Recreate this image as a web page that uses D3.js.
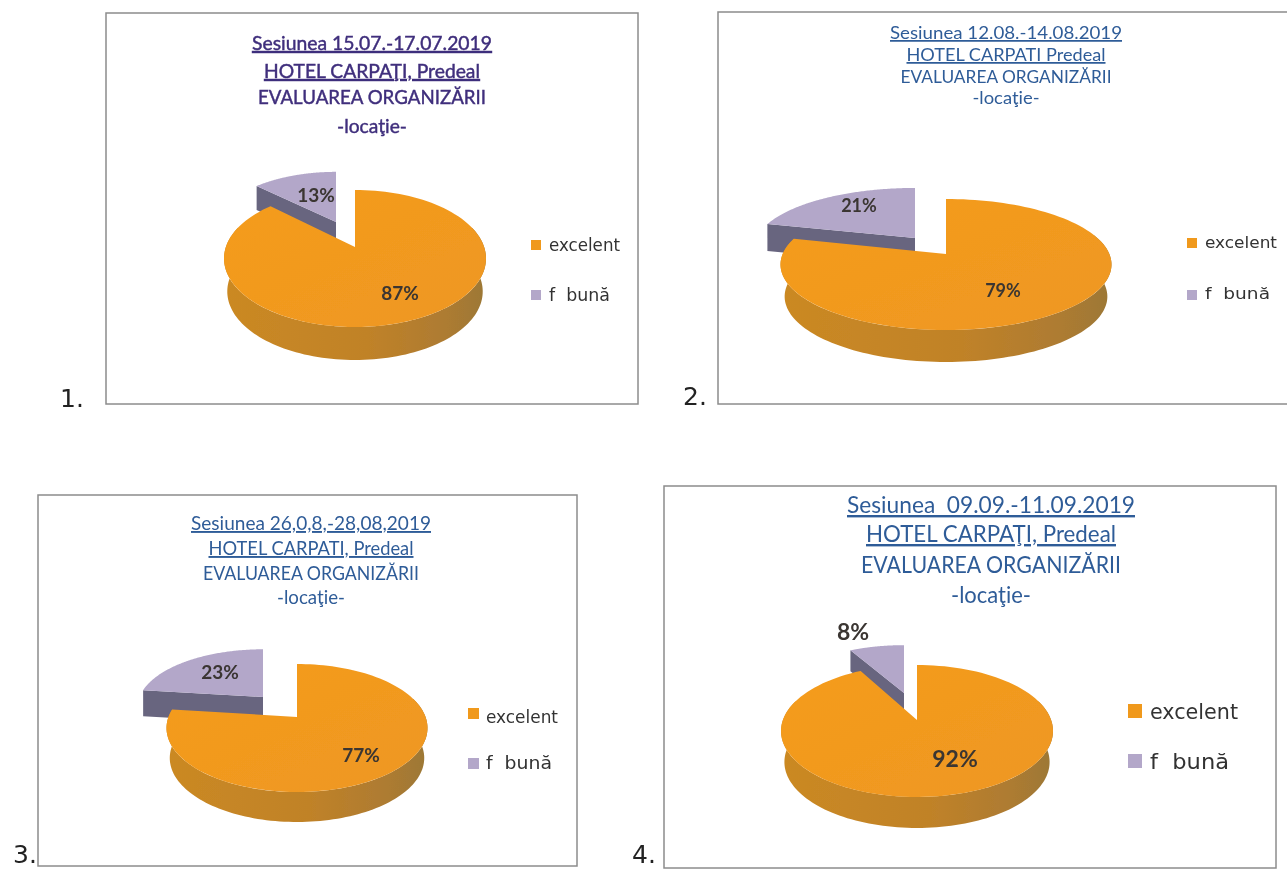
<!DOCTYPE html>
<html><head><meta charset="utf-8">
<script src="https://cdnjs.cloudflare.com/ajax/libs/d3/7.8.5/d3.min.js"></script>
<style>html,body{margin:0;padding:0;background:#fff;overflow:hidden}svg{display:block}text{white-space:pre}</style>
</head><body><svg id="c" width="1287" height="869"></svg>
<script>
// ---- data ----
const categories = ["excelent", "f  bună"];
const excelent = [87, 79, 77, 92];
const fBuna = [13, 21, 23, 8];
const rowLabels = ["1.", "2.", "3.", "4."];
const titles = [
  ["Sesiunea 15.07.-17.07.2019", "HOTEL CARPAŢI, Predeal", "EVALUAREA ORGANIZĂRII", "-locaţie-"],
  ["Sesiunea 12.08.-14.08.2019", "HOTEL CARPATI Predeal", "EVALUAREA ORGANIZĂRII", "-locaţie-"],
  ["Sesiunea 26,0,8,-28,08,2019", "HOTEL CARPATI, Predeal", "EVALUAREA ORGANIZĂRII", "-locaţie-"],
  ["Sesiunea  09.09.-11.09.2019", "HOTEL CARPAŢI, Predeal", "EVALUAREA ORGANIZĂRII", "-locaţie-"]
];
// ---- layout ----
const layout = [
 {frame:[106,13,638,404], num:[60,407], tc:372, tcol:"#3f2e7c", bold:0.45, ts:20, tb:[50,78,104,133], tl:[240,216,228,70],
  ax:355, ay:247, up:57, down:80, hw:131, d:33, px:336, py:222, pk:0.88, pkx:0.94, pd:24,
  sw:10, leg:[[531,240,549,251,71],[531,290,549,301,61]], ls:17,
  lab:[[400,300,19],[316,202,19]]},
 {frame:[718,12,1300,404], num:[683,405], tc:1006, tcol:"#2f5c98", bold:0, ts:17.5, tb:[39,61,83,104], tl:[232,199,211,67],
  ax:946, ay:254, up:55, down:76, hw:165.5, d:32, px:915, py:238, pk:0.91, pkx:0.97, pd:27,
  sw:10, leg:[[1187,238,1205,248,72],[1187,290,1205,299,65]], ls:15,
  lab:[[1003,297,18],[859,212,18]]},
 {frame:[38,495,577,866], num:[13,863], tc:311, tcol:"#2f5c98", bold:0, ts:19, tb:[530,555,580,604], tl:[240,205,216,68],
  ax:297, ay:717, up:53, down:75, hw:130.5, d:30, px:263, py:697, pk:0.9, pkx:0.96, pd:26,
  sw:11, leg:[[468,708,486,723,72],[468,758,486,769,66]], ls:17,
  lab:[[361,762,19],[220,679,19]]},
 {frame:[664,486,1276,868], num:[632,863], tc:991, tcol:"#2f5c98", bold:0, ts:24, tb:[513,542,573,603], tl:[288,250,260,80],
  ax:917, ay:720, up:55, down:77, hw:136, d:31, px:904, py:693, pk:0.87, pkx:0.95, pd:21,
  sw:14, leg:[[1128,704,1150,719,88],[1128,754,1150,769,79]], ls:22,
  lab:[[955,767,23],[853,640,23]]}
];
const svg = d3.select("#c");
const defs = svg.append("defs");
defs.append("filter").attr("id","soft").attr("x",0).attr("y",0)
  .attr("filterUnits","userSpaceOnUse").attr("primitiveUnits","userSpaceOnUse")
  .attr("width",1287).attr("height",869)
  .append("feGaussianBlur").attr("stdDeviation",0.4);
const color = d3.scaleOrdinal().domain(categories).range(["#f0991f", "#b3a7c9"]);
const wallDark = "#68657f";
const sideG = defs.append("linearGradient").attr("id","side");
[[0,"#cb8923"],[0.55,"#c08228"],[0.85,"#ad7b32"],[1,"#9c7836"]].forEach(s=>sideG.append("stop").attr("offset",s[0]).attr("stop-color",s[1]));
const faceG = defs.append("linearGradient").attr("id","face").attr("x1",0).attr("y1",0).attr("x2",1).attr("y2",1);
[[0,"#f59c1c"],[1,"#ee9722"]].forEach(s=>faceG.append("stop").attr("offset",s[0]).attr("stop-color",s[1]));

const pie = d3.pie().sort(null).value(d=>d.v);
const line = d3.line().curve(d3.curveLinear);
const root = svg.append("g").attr("filter","url(#soft)");

excelent.forEach((v,i)=>{
  const L = layout[i];
  const g = root.append("g");
  const [x0,y0,x1,y1] = L.frame;
  g.append("rect").attr("x",x0).attr("y",y0).attr("width",x1-x0).attr("height",y1-y0)
    .attr("fill","#fff").attr("stroke","#8c8c8c").attr("stroke-width",1.5);
  g.append("text").attr("x",L.num[0]).attr("y",L.num[1]).attr("font-family","DejaVu Sans").attr("font-size",25)
    .attr("fill","#222").text(rowLabels[i]);

  // title
  titles[i].forEach((t,k)=>{
    g.append("text").attr("x",L.tc).attr("y",L.tb[k]).attr("text-anchor","middle")
      .attr("font-family","Lato").attr("font-size",L.ts).attr("fill",L.tcol)
      .attr("stroke",L.tcol).attr("stroke-width",L.bold)
      .attr("textLength",L.tl[k]).attr("lengthAdjust","spacingAndGlyphs")
      .style("text-decoration",k<2?"underline":"none").text(t);
  });

  // perspective of a tilted disc: circle -> off-centre ellipse
  const p = (L.down-L.up)/(L.down+L.up);
  const Ry = L.up*(1+p), Rx = L.hw*Math.sqrt(1-p*p);
  const proj = (ox,oy,k=1,kx=1)=>a=>{
    const s = 1/(1+p*Math.cos(a));
    return [ox+kx*Rx*Math.sin(a)*s, oy-k*Ry*Math.cos(a)*s];
  };
  const samples = (a0,a1,f)=>d3.range(0,121).map(n=>f(a0+(a1-a0)*n/120));

  const arcs = pie([{k:categories[0],v},{k:categories[1],v:fBuna[i]}]);
  const [o,b] = arcs;

  // exploded wedge: wall, then face
  const fb = proj(L.px,L.py,L.pk,L.pkx);
  const outer = fb(b.startAngle);
  g.append("path").attr("fill",wallDark).attr("d",line([outer,[L.px,L.py],[L.px,L.py+L.pd],[outer[0],outer[1]+L.pd]])+"Z");
  g.append("path").attr("fill",color(b.data.k))
    .attr("d",line([[L.px,L.py],...samples(b.startAngle,b.endAngle,fb)])+"Z");

  // main wedge: side wall (lower disc slightly narrower), then face
  const fo = proj(L.ax,L.ay);
  const s0=Math.PI*0.4, s1=Math.min(o.endAngle,Math.PI*1.6);
  const top = samples(s0,s1,fo), bot = top.map(q=>[L.ax+(q[0]-L.ax)*0.975,q[1]+L.d]).reverse();
  g.append("path").attr("fill","url(#side)").attr("d",line([...top,...bot])+"Z");
  g.append("path").attr("fill","url(#face)")
    .attr("d",line([[L.ax,L.ay],...samples(o.startAngle,o.endAngle,fo)])+"Z");

  // value labels
  [excelent[i],fBuna[i]].forEach((val,k)=>{
    g.append("text").attr("x",L.lab[k][0]).attr("y",L.lab[k][1]).attr("text-anchor","middle")
      .attr("font-family","Lato").attr("font-weight",700).attr("font-size",L.lab[k][2])
      .attr("fill","#3a3632").text(val+"%");
  });

  // legend
  categories.forEach((c,k)=>{
    const q=L.leg[k];
    g.append("rect").attr("x",q[0]).attr("y",q[1]).attr("width",L.sw).attr("height",L.sw).attr("fill",color(c));
    g.append("text").attr("x",q[2]).attr("y",q[3]).attr("font-family","DejaVu Sans").attr("font-size",L.ls)
      .attr("fill","#333").attr("textLength",q[4]).attr("lengthAdjust","spacingAndGlyphs").text(c);
  });
});
</script></body></html>
